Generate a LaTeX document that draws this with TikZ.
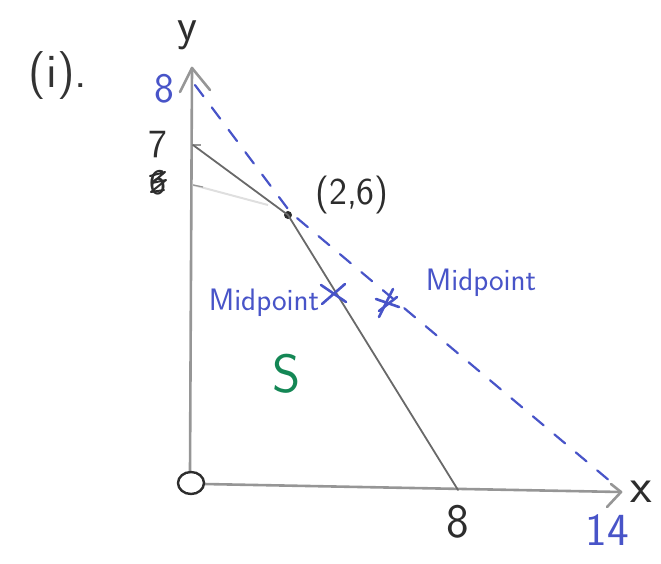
\documentclass[tikz,border=0pt]{standalone}
\usepackage{fontspec}
\usetikzlibrary{calc}
\definecolor{penblue}{RGB}{72,84,200}
\definecolor{pengreen}{RGB}{20,135,85}
\definecolor{pendark}{RGB}{45,45,45}
\definecolor{axisgray}{RGB}{150,150,150}
\definecolor{linegray}{RGB}{105,105,105}
\tikzset{
  axisline/.style={draw=axisgray, line width=2.6pt, line cap=round, line join=round},
  solidline/.style={draw=linegray, line width=1.8pt, line cap=round},
  bluedash/.style={draw=penblue, line width=2.2pt, dash pattern=on 14pt off 14pt, line cap=round},
  midmark/.style={draw=penblue, line width=2.6pt, line cap=round},
  hand/.style={inner sep=0pt, font=\sffamily\fontsize{40}{44}\selectfont, text=pendark},
  handblue/.style={hand, text=penblue},
  pdot/.style={circle, fill=pendark, inner sep=0pt, minimum size=8pt},
}
\begin{document}
\begin{tikzpicture}[x=1pt,y=-1pt]
\useasboundingbox (0,0) rectangle (661,563);
% key points
\coordinate (O) at (191,483);
\coordinate (ybase) at (190,472);
\coordinate (ytop) at (192,68);
\coordinate (ya1) at (180,92);
\coordinate (ya2) at (210,90);
\coordinate (xbase) at (204,484);
\coordinate (xend) at (621,492);
\coordinate (xa1) at (611,484);
\coordinate (xa2) at (607,507);
\coordinate (y8) at (195,85);
\coordinate (y7) at (193,145);
\coordinate (y6) at (193,185);
\coordinate (y6e) at (268,205);
\coordinate (x8) at (458,490);
\coordinate (x14) at (617,487);
\coordinate (bend) at (291,213);
\node[pdot] (P) at (288,215) {};

% axes
\draw[axisline] (ybase) -- (ytop);
\draw[axisline] (ya1) -- (ytop) -- (ya2);
\draw[axisline] (xbase) -- (xend);
\draw[axisline] (xa1) -- (xend) -- (xa2);
\draw[draw=pendark, line width=2.4pt] (O) ellipse (13 and 11);

% faint old line at 6
\draw[draw=gray!25, line width=2pt] (y6) -- (y6e);
\draw[draw=axisgray, line width=1.2pt] (y6) -- ++(10,2);
\draw[draw=axisgray, line width=1.2pt] (y7) -- ++(8,0);

% constraint line through (2,6)
\draw[solidline] (y7) -- (P.center) -- (x8);

% blue dashed line
\draw[bluedash] (y8) -- (bend) -- (x14);

% midpoint marks
\coordinate (m1) at (333,293);
\coordinate (m2) at (388,303);
\draw[midmark] ($(m1)+(-12,-8)$) -- ($(m1)+(13,9)$);
\draw[midmark] ($(m1)+(-11,11)$) -- ($(m1)+(12,-9)$);
\draw[midmark] ($(m2)+(-9,14)$) -- ($(m2)+(5,-14)$);
\draw[midmark] ($(m2)+(-12,-4)$) -- ($(m2)+(11,4)$);
\draw[midmark] ($(m2)+(-9,8)$) -- ($(m2)+(9,-6)$);

% labels
\node[hand, font=\sffamily\fontsize{48}{52}\selectfont, text=black!80] (lab) at (58,76) {(i).};
\node[hand, anchor=base, font=\sffamily\fontsize{46}{50}\selectfont] (ylab) at (187,40) {y};
\node[hand, font=\sffamily\fontsize{50}{54}\selectfont] (xlab) at (641,492) {x};
\node[handblue, font=\sffamily\fontsize{42}{46}\selectfont] (l8) at (164,89) {8};
\node[hand, font=\sffamily\fontsize{40}{44}\selectfont] (l7) at (158,145) {7};
\node[hand, font=\sffamily\fontsize{36}{40}\selectfont] (l6) at (158,183) {6};
\draw[draw=pendark, line width=2pt, line cap=round, line join=round]
  (150,176) -- (165,172) -- (152,183) -- (166,180) -- (151,192) -- (164,190);
\node[hand, font=\sffamily\fontsize{38}{42}\selectfont] (pl) at (352,195) {(2,6)};
\node[handblue, font=\sffamily\fontsize{31}{34}\selectfont] (mp1) at (264,303) {Midpoint};
\node[handblue, font=\sffamily\fontsize{31}{34}\selectfont] (mp2) at (481,283) {Midpoint};
\node[hand, text=pengreen, font=\sffamily\fontsize{54}{58}\selectfont] (S) at (287,374) {S};
\node[hand, font=\sffamily\fontsize{48}{52}\selectfont] (b8) at (458,522) {8};
\node[handblue, font=\sffamily\fontsize{46}{50}\selectfont] (b14) at (607,530) {14};
\end{tikzpicture}
\end{document}
